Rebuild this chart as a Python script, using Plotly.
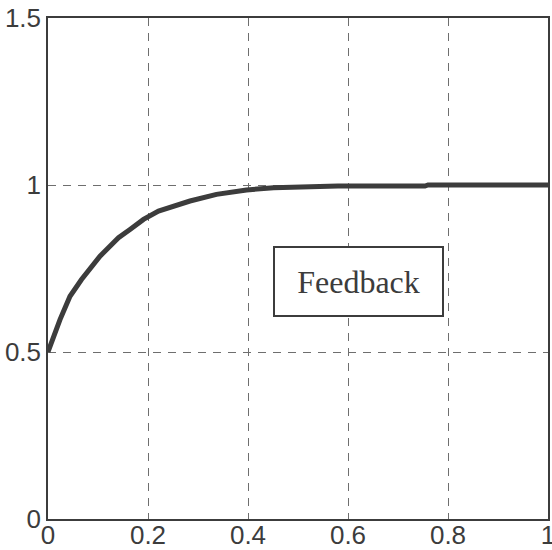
import plotly.graph_objects as go

# Data
t = [0, 0.024, 0.044, 0.067, 0.104, 0.141, 0.164, 0.191, 0.221, 0.251, 0.284,
     0.337, 0.397, 0.451, 0.504, 0.58, 0.754, 0.76, 1.0]
response = [0.5, 0.597, 0.667, 0.717, 0.787, 0.842, 0.867, 0.897, 0.922, 0.937,
            0.952, 0.972, 0.985, 0.992, 0.995, 0.997, 0.997, 1.0, 1.0]
x_ticks = [0, 0.2, 0.4, 0.6, 0.8, 1]
x_tick_labels = ["0", "0.2", "0.4", "0.6", "0.8", "1"]
y_ticks = [0, 0.5, 1, 1.5]
y_tick_labels = ["0", "0.5", "1", "1.5"]
label_text = "Feedback"

ink = "#3c3c3c"

fig = go.Figure()
fig.add_trace(go.Scatter(x=t, y=response, mode="lines",
                         line=dict(color=ink, width=5), hoverinfo="skip",
                         showlegend=False))

axis_common = dict(
    showline=True, linecolor=ink, linewidth=1.5, mirror=True,
    showgrid=True, gridcolor="#6e6e6e", gridwidth=1, griddash="8px,7px",
    zeroline=False, ticks="", automargin=False, ticklabeloverflow="allow",
    tickfont=dict(family="Liberation Sans, Arial, sans-serif", size=26, color=ink),
)

fig.update_xaxes(range=[0, 1], tickvals=x_ticks, ticktext=x_tick_labels,
                 ticklabelstandoff=-8, **axis_common)
fig.update_yaxes(range=[0, 1.5], tickvals=y_ticks, ticktext=y_tick_labels, **axis_common)

fig.add_annotation(x=0.621, y=0.711, xref="x", yref="y", text=label_text,
                   showarrow=False,
                   font=dict(family="Liberation Serif, Times New Roman, serif", size=32, color=ink),
                   bgcolor="white", bordercolor=ink, borderwidth=2, borderpad=0,
                   width=167, height=67)

fig.update_layout(width=552, height=550,
                  margin=dict(l=48, r=4, t=18, b=31, autoexpand=False),
                  paper_bgcolor="white", plot_bgcolor="white")

fig.write_html("out.html")
